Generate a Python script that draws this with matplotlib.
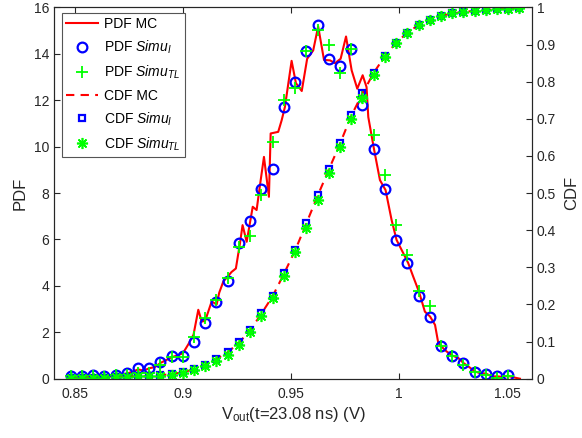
import numpy as np
import matplotlib
matplotlib.use("Agg")
import matplotlib.pyplot as plt

plt.rcParams['font.family'] = ['Liberation Sans', 'DejaVu Sans']
plt.rcParams['mathtext.fontset'] = 'custom'
plt.rcParams['mathtext.rm'] = 'Liberation Sans'
plt.rcParams['mathtext.it'] = 'Liberation Sans:italic'

# ---- data ----
# Monte Carlo PDF (fine resolution)
mc_x = [0.8480, 0.8506, 0.8532, 0.8558, 0.8584, 0.8610, 0.8636, 0.8662, 0.8688, 0.8714,
        0.8740, 0.8766, 0.8792, 0.8818, 0.8844, 0.8870, 0.8896, 0.8922, 0.8948, 0.8974,
        0.9000, 0.9026, 0.9049, 0.9071, 0.9087, 0.9103, 0.9133, 0.9156, 0.9168, 0.9187,
        0.9207, 0.9225, 0.9245, 0.9264, 0.9276, 0.9295, 0.9323, 0.9341, 0.9356, 0.9375,
        0.9398, 0.9406, 0.9441, 0.9457, 0.9472, 0.9503, 0.9523, 0.9550, 0.9575, 0.9603,
        0.9626, 0.9653, 0.9681, 0.9704, 0.9730, 0.9755, 0.9781, 0.9807, 0.9832, 0.9850,
        0.9858, 0.9884, 0.9912, 0.9938, 0.9966, 0.9989, 1.0020, 1.0043, 1.0066, 1.0093,
        1.0120, 1.0144, 1.0167, 1.0182, 1.0196, 1.0221, 1.0249, 1.0275, 1.0298, 1.0321,
        1.0352, 1.0375, 1.0403, 1.0429, 1.0455, 1.0480, 1.0506, 1.0529, 1.0560]
mc_pdf = [0.10, 0.10, 0.10, 0.10, 0.12, 0.10, 0.08, 0.10, 0.15, 0.20,
          0.22, 0.30, 0.40, 0.35, 0.45, 0.50, 0.68, 0.80, 0.93, 1.00,
          1.10, 1.50, 1.90, 2.97, 2.46, 2.50, 3.33, 3.20, 3.71, 4.19,
          4.40, 4.60, 4.75, 5.84, 6.62, 5.90, 7.41, 7.27, 8.30, 9.56,
          7.84, 10.57, 10.64, 11.14, 11.71, 13.70, 12.74, 12.40, 13.79, 14.15,
          15.18, 13.74, 13.72, 13.60, 13.79, 14.75, 13.29, 12.50, 13.08, 12.57,
          11.28, 9.92, 8.56, 8.13, 6.84, 5.98, 5.41, 4.98, 4.40, 3.74,
          2.89, 2.68, 2.32, 1.54, 1.39, 1.17, 0.99, 0.89, 0.68, 0.53,
          0.31, 0.24, 0.22, 0.10, 0.10, 0.08, 0.12, 0.06, 0.00]

# simulation bins
sim_x = [0.8480, 0.8532, 0.8584, 0.8636, 0.8688, 0.8740, 0.8792, 0.8844, 0.8896, 0.8948,
         0.9000, 0.9052, 0.9103, 0.9155, 0.9207, 0.9259, 0.9311, 0.9363, 0.9415, 0.9467,
         0.9519, 0.9571, 0.9623, 0.9675, 0.9727, 0.9779, 0.9831, 0.9883, 0.9935, 0.9987,
         1.0039, 1.0091, 1.0143, 1.0194, 1.0246, 1.0298, 1.0350, 1.0402, 1.0454, 1.0506,
         1.0558]
pdf_simu_i = [0.13, 0.13, 0.15, 0.10, 0.15, 0.25, 0.46, 0.46, 0.70, 0.96,
              0.96, 1.60, 2.42, 3.31, 4.21, 5.86, 6.78, 8.16, 9.03, 11.69,
              12.79, 14.12, 15.23, 13.79, 13.48, 14.22, 11.81, 9.92, 8.16, 5.98,
              5.00, 3.57, 2.68, 1.39, 0.99, 0.68, 0.31, 0.22, 0.10, 0.17]
pdf_simu_tl = [0.10, 0.10, 0.12, 0.08, 0.15, 0.15, 0.24, 0.24, 0.60, 0.93,
               0.93, 1.79, 2.61, 3.40, 4.35, 5.69, 6.15, 7.91, 10.20, 12.00,
               12.55, 14.12, 15.01, 14.37, 13.18, 14.22, 12.14, 10.49, 8.77, 6.62,
               5.33, 3.80, 3.15, 1.39, 0.99, 0.60, 0.30, 0.15, 0.05, 0.10]
cdf_mc = [0.001, 0.002, 0.003, 0.003, 0.004, 0.005, 0.006, 0.007, 0.009, 0.013,
          0.017, 0.026, 0.038, 0.053, 0.071, 0.097, 0.130, 0.175, 0.222, 0.282,
          0.345, 0.418, 0.492, 0.563, 0.633, 0.708, 0.768, 0.824, 0.869, 0.905,
          0.932, 0.953, 0.966, 0.977, 0.984, 0.988, 0.991, 0.993, 0.995, 0.997,
          0.999]
cdf_simu_i = [0.001, 0.002, 0.003, 0.003, 0.004, 0.005, 0.006, 0.007, 0.009, 0.013,
              0.017, 0.026, 0.038, 0.053, 0.071, 0.098, 0.132, 0.177, 0.224, 0.284,
              0.347, 0.420, 0.494, 0.565, 0.634, 0.711, 0.769, 0.824, 0.869, 0.905,
              0.932, 0.953, 0.966, 0.977, 0.984, 0.988, 0.991, 0.993, 0.995, 0.997,
              0.998]
cdf_simu_tl = [0.001, 0.002, 0.003, 0.003, 0.004, 0.005, 0.006, 0.007, 0.008, 0.011,
               0.015, 0.023, 0.034, 0.048, 0.065, 0.091, 0.125, 0.170, 0.218, 0.277,
               0.340, 0.407, 0.482, 0.555, 0.625, 0.699, 0.756, 0.818, 0.867, 0.903,
               0.930, 0.952, 0.966, 0.977, 0.984, 0.988, 0.991, 0.993, 0.995, 0.997,
               0.998]

red, blue, green = '#ff0000', '#0000ff', '#00ff00'
spine_c = '#262626'

fig = plt.figure(figsize=(5.82, 4.38), dpi=100)
ax = fig.add_axes([0.0928, 0.1354, 0.8213, 0.8475])
ax2 = ax.twinx()

h1, = ax.plot(mc_x, mc_pdf, '-', color=red, lw=1.5)
h2, = ax.plot(sim_x[:len(pdf_simu_i)], pdf_simu_i, 'o', mfc='none', mec=blue, mew=1.6, ms=7)
h3, = ax.plot(sim_x[:len(pdf_simu_tl)], pdf_simu_tl, '+', color=green, mew=1.3, ms=8)

h4, = ax2.plot(sim_x, cdf_mc, '--', color=red, lw=1.5, dashes=(4, 3))
h5, = ax2.plot(sim_x, cdf_simu_i, 's', mfc='none', mec=blue, mew=1.6, ms=4.8)
h6, = ax2.plot(sim_x, cdf_simu_tl, marker=(8, 2, 0), ls='none', color=green, mec=green,
               mew=1.2, ms=8)

ax.set_xlim(0.8403, 1.0616)
ax.set_ylim(0, 16)
ax2.set_ylim(0, 1)
ax.set_xticks([0.85, 0.9, 0.95, 1, 1.05])
ax.set_xticklabels(['0.85', '0.9', '0.95', '1', '1.05'])
ax.set_yticks(range(0, 17, 2))
ax2.set_yticks(np.arange(0, 1.01, 0.1))
ax2.set_yticklabels(['0', '0.1', '0.2', '0.3', '0.4', '0.5', '0.6', '0.7', '0.8', '0.9', '1'])

for a in (ax, ax2):
    for s in a.spines.values():
        s.set_color(spine_c)
        s.set_linewidth(0.8)
ax.tick_params(axis='x', direction='in', top=True, length=4, width=0.8,
               labelsize=10, colors=spine_c, pad=6)
ax.tick_params(axis='y', direction='in', right=False, length=4, width=0.8,
               labelsize=10, colors=spine_c)
ax2.tick_params(axis='y', direction='in', length=4, width=0.8, labelsize=10, colors=spine_c)

ax.set_xlabel(r'V$_{\mathrm{out}}$(t=23.08 ns) (V)', fontsize=12, color=spine_c, labelpad=3)
ax.set_ylabel('PDF', fontsize=12, color=spine_c, labelpad=4)
ax2.set_ylabel('CDF', fontsize=12, color=spine_c, labelpad=6)

labels = ['PDF MC', r'PDF $\mathit{Simu}_{I}$', r'PDF $\mathit{Simu}_{TL}$',
          'CDF MC', r'CDF $\mathit{Simu}_{I}$', r'CDF $\mathit{Simu}_{TL}$']
leg = ax2.legend([h1, h2, h3, h4, h5, h6], labels, loc='upper left',
                 bbox_to_anchor=(0.017, 0.986), fontsize=10, frameon=True, fancybox=False,
                 edgecolor='#555555', framealpha=1, handlelength=2.3, handletextpad=0.4,
                 labelspacing=0.55, borderpad=0.3, borderaxespad=0)
leg.get_frame().set_linewidth(0.8)

fig.savefig('out.png', dpi=100)
